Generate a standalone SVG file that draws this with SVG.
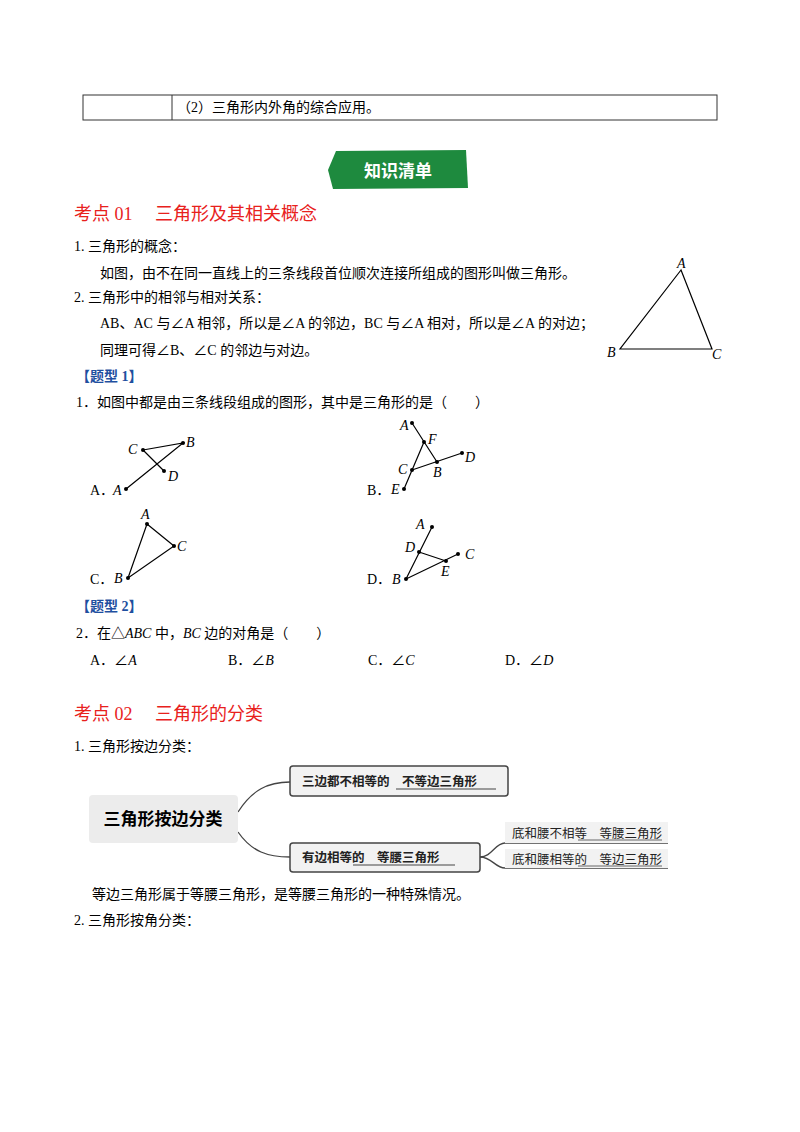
<svg xmlns="http://www.w3.org/2000/svg" width="800" height="1132" viewBox="0 0 800 1132">
<style>
text{font-family:"Liberation Serif","Noto Sans CJK SC",serif;font-size:14px;fill:#000}
.i{font-style:italic}
.h{fill:#e8211c;font-size:18px}
.b{fill:#1f4fa0;font-weight:bold}
.s{font-family:"Noto Sans CJK SC",sans-serif;font-size:12.5px;fill:#222}
.ln{stroke:#000;stroke-width:1.2;fill:none}
.cv{stroke:#444;stroke-width:1.3;fill:none}
</style>
<rect width="800" height="1132" fill="#fff"/>
<g id="table"><rect x="83" y="95" width="634" height="25" fill="none" stroke="#333"/><line x1="172" y1="95" x2="172" y2="120" stroke="#333"/>
<text x="177" y="112" font-size="13">（2）三角形内外角的综合应用。</text></g>
<g id="banner"><polygon points="336,151 466,150 468,188 333,189 328,170" fill="#1e8a3e"/>
<text x="398" y="177" text-anchor="middle" style="font-family:'Noto Sans CJK SC',sans-serif;font-weight:bold;font-size:17px;fill:#fff">知识清单</text></g>
<text x="74" y="220" class="h">考点 01　 三角形及其相关概念</text>
<text x="74" y="251">1. 三角形的概念：</text>
<text x="100" y="278">如图，由不在同一直线上的三条线段首位顺次连接所组成的图形叫做三角形。</text>
<text x="74" y="302">2. 三角形中的相邻与相对关系：</text>
<text x="100" y="328">AB、AC 与∠A 相邻，所以是∠A 的邻边，BC 与∠A 相对，所以是∠A 的对边；</text>
<text x="100" y="355">同理可得∠B、∠C 的邻边与对边。</text>
<g id="tri0"><polygon points="681,270 620,349 712,349" class="ln" stroke-width="1"/>
<text x="677" y="268" class="i" font-size="11">A</text><text x="607" y="357" class="i" font-size="11">B</text><text x="712" y="359" class="i" font-size="11">C</text></g>
<text x="76" y="381" class="b">【题型 1】</text>
<text x="76" y="407">1．如图中都是由三条线段组成的图形，其中是三角形的是（　　）</text>
<g id="figA"><path d="M143,450L183,443L126,489M143,450L164,471" class="ln"/>
<g fill="#000"><circle cx="143" cy="450" r="2"/><circle cx="183" cy="443" r="2"/><circle cx="164" cy="471" r="2"/><circle cx="126" cy="489" r="2"/></g>
<text x="128" y="454" class="i">C</text><text x="186" y="447" class="i">B</text><text x="168" y="481" class="i">D</text><text x="113" y="495" class="i">A</text><text x="90" y="495">A．</text></g>
<g id="figB"><path d="M412,423L437,462M404,489L424,442M412,470L462,453" class="ln"/>
<g fill="#000"><circle cx="412" cy="423" r="2"/><circle cx="424" cy="442" r="2"/><circle cx="437" cy="462" r="2"/><circle cx="462" cy="453" r="2"/><circle cx="412" cy="470" r="2"/><circle cx="404" cy="489" r="2"/></g>
<text x="400" y="430" class="i">A</text><text x="428" y="444" class="i">F</text><text x="433" y="477" class="i">B</text><text x="465" y="462" class="i">D</text><text x="398" y="474" class="i">C</text><text x="391" y="494" class="i">E</text><text x="367" y="495">B．</text></g>
<g id="figC"><polygon points="147,524 174,546 128,578" class="ln"/>
<g fill="#000"><circle cx="147" cy="524" r="2"/><circle cx="174" cy="546" r="2"/><circle cx="128" cy="578" r="2"/></g>
<text x="141" y="519" class="i">A</text><text x="177" y="551" class="i">C</text><text x="114" y="583" class="i">B</text><text x="90" y="584">C．</text></g>
<g id="figD"><path d="M406,579L432,527M419,552L446,561M406,579L458,554" class="ln"/>
<g fill="#000"><circle cx="432" cy="527" r="2"/><circle cx="419" cy="552" r="2"/><circle cx="446" cy="561" r="2"/><circle cx="458" cy="554" r="2"/><circle cx="406" cy="579" r="2"/></g>
<text x="416" y="529" class="i">A</text><text x="405" y="552" class="i">D</text><text x="441" y="576" class="i">E</text><text x="465" y="559" class="i">C</text><text x="392" y="584" class="i">B</text><text x="367" y="584">D．</text></g>
<text x="76" y="611" class="b">【题型 2】</text>
<text x="76" y="638">2．在△<tspan class="i">ABC</tspan> 中，<tspan class="i">BC</tspan> 边的对角是（　　）</text>
<text x="90" y="665">A．∠<tspan class="i">A</tspan></text><text x="228" y="665">B．∠<tspan class="i">B</tspan></text><text x="368" y="665">C．∠<tspan class="i">C</tspan></text><text x="505" y="665">D．∠<tspan class="i">D</tspan></text>
<text x="74" y="720" class="h">考点 02　 三角形的分类</text>
<text x="74" y="751">1. 三角形按边分类：</text>
<g id="conn"><path d="M238,812C252,790 268,782 290,782" class="cv"/><path d="M238,832C252,852 268,857 290,857" class="cv"/>
<path d="M480,857C492,857 495,843 505,843H668" class="cv" stroke-width="1"/><path d="M480,857C492,857 495,868 505,868H668" class="cv" stroke-width="1"/></g>
<g id="main"><rect x="89" y="795" width="149" height="48" rx="4" fill="#ececec"/><text x="163" y="825" text-anchor="middle" style="font-family:'Noto Sans CJK SC',sans-serif;font-weight:bold;font-size:17px">三角形按边分类</text></g>
<g id="n1"><rect x="290" y="766" width="218" height="30" rx="3" fill="#f2f2f2" stroke="#444" stroke-width="1.5"/><text x="302" y="786" class="s" style="font-weight:bold">三边都不相等的　不等边三角形</text><line x1="396" y1="789" x2="496" y2="789" stroke="#444"/></g>
<g id="n2"><rect x="290" y="843" width="190" height="29" rx="3" fill="#f2f2f2" stroke="#444" stroke-width="1.5"/><text x="302" y="862" class="s" style="font-weight:bold">有边相等的　等腰三角形</text><line x1="353" y1="865" x2="455" y2="865" stroke="#444"/></g>
<g id="n3"><rect x="505" y="822" width="163" height="21" fill="#f2f2f2"/><text x="512" y="838" class="s" font-size="11">底和腰不相等　等腰三角形</text><line x1="578" y1="840" x2="662" y2="840" stroke="#444" stroke-width="0.8"/></g>
<g id="n4"><rect x="505" y="849" width="163" height="19" fill="#f2f2f2"/><text x="512" y="864" class="s" font-size="11">底和腰相等的　等边三角形</text><line x1="578" y1="866" x2="662" y2="866" stroke="#444" stroke-width="0.8"/></g>
<text x="92" y="899">等边三角形属于等腰三角形，是等腰三角形的一种特殊情况。</text>
<text x="74" y="925">2. 三角形按角分类：</text>
</svg>
